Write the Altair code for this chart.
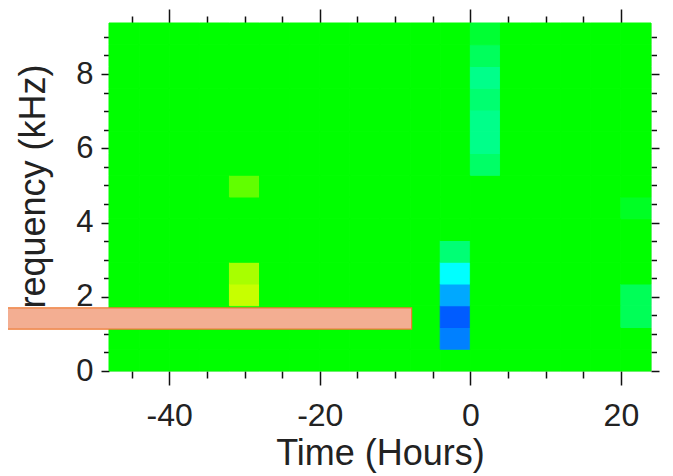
import altair as alt
import pandas as pd

# ---- data ----
time_starts = [-48, -44, -40, -36, -32, -28, -24, -20, -16, -12, -8, -4, 0, 4, 8, 12, 16, 20]
time_width = 4
freq_step = 0.5859375
n_freq_bins = 16

# non-background cells (time bin start, frequency bin index, value)
cell_time = [-32, -32, -32, -4, -4, -4, -4, -4, 0, 0, 0, 0, 0, 0, 0, 20, 20, 20]
cell_bin = [3, 4, 8, 1, 2, 3, 4, 5, 9, 10, 11, 12, 13, 14, 15, 2, 3, 7]
cell_value = [0.39, 0.33, 0.19, -0.75, -0.82, -0.67, -0.50, -0.23,
              -0.20, -0.27, -0.27, -0.22, -0.27, -0.18, -0.10,
              -0.17, -0.17, -0.07]

# annotation bar (time, frequency extents)
bar_time = [-62, -7.8]
bar_freq = [1.13, 1.70]

x_ticks = list(range(-45, 21, 5))
y_ticks = [i * 0.5 for i in range(19)]

lookup = {(t, b): v for t, b, v in zip(cell_time, cell_bin, cell_value)}
rows = []
for t in time_starts:
    for b in range(n_freq_bins):
        rows.append(dict(t0=t, t1=t + time_width, f0=b * freq_step,
                         f1=(b + 1) * freq_step, v=lookup.get((t, b), 0.0)))
df = pd.DataFrame(rows)
bar_df = pd.DataFrame({"t0": [bar_time[0]], "t1": [bar_time[1]],
                       "f0": [bar_freq[0]], "f1": [bar_freq[1]]})

font = "Liberation Sans"
W, H = 542, 348

xscale = alt.Scale(domain=[-48, 24], nice=False, zero=False)
yscale = alt.Scale(domain=[0, 9.375], nice=False, zero=False)
cscale = alt.Scale(type="linear", domain=[-1, -0.5, 0, 0.5, 1],
                   range=["#0000ff", "#00ffff", "#00ff00", "#ffff00", "#ff0000"],
                   interpolate="rgb")

x_tick_size = {"condition": {"test": "datum.value % 20 === 0", "value": 14}, "value": 7}
y_tick_size = {"condition": {"test": "datum.value % 2 === 0", "value": 8}, "value": 5.5}

common = dict(domain=False, grid=False, tickColor="#111", tickWidth=1.5, zindex=0,
              labelOverlap=False, labelFlush=False)

heat = alt.Chart(df).mark_rect(strokeWidth=1).encode(
    x=alt.X("t0:Q", scale=xscale, axis=alt.Axis(
        orient="bottom", values=x_ticks, tickSize=x_tick_size,
        labelExpr="datum.value % 20 === 0 ? toString(datum.value) : ''",
        labelFont=font, labelFontSize=32, labelColor="#222", labelPadding=15,
        title="Time (Hours)", titleFont=font, titleFontSize=36, titleFontWeight="normal",
        titleColor="#222", titleBaseline="alphabetic", titleX=W / 2, titleY=93,
        **common)),
    x2="t1:Q",
    y=alt.Y("f0:Q", scale=yscale, axis=alt.Axis(
        orient="left", values=y_ticks, tickSize=y_tick_size,
        labelExpr="datum.value % 2 === 0 ? toString(datum.value) : ''",
        labelFont=font, labelFontSize=31, labelColor="#222", labelPadding=8,
        title="Frequency (kHz)", titleFont=font, titleFontSize=36, titleFontWeight="normal",
        titleColor="#222", titleBaseline="alphabetic", titleAngle=270,
        titleX=-65, titleY=H / 2,
        **common)),
    y2="f1:Q",
    color=alt.Color("v:Q", scale=cscale, legend=None),
    stroke=alt.Stroke("v:Q", scale=cscale, legend=None),
)

bar = alt.Chart(bar_df).mark_rect(fill="#f3ae92", stroke="#ee7a33", strokeWidth=1.2,
                                  clip=False).encode(
    x=alt.X("t0:Q", scale=xscale, title=None, axis=alt.Axis(
        orient="top", values=x_ticks, tickSize=x_tick_size, labels=False, **common)),
    x2="t1:Q",
    y=alt.Y("f0:Q", scale=yscale, title=None, axis=alt.Axis(
        orient="right", values=y_ticks, tickSize=y_tick_size, labels=False, **common)),
    y2="f1:Q",
)

chart = alt.layer(heat, bar).resolve_axis(x="independent", y="independent").properties(
    width=W, height=H,
    autosize=alt.AutoSizeParams(type="none"),
    padding={"left": 101, "top": 15, "right": 14, "bottom": 102},
).configure_view(fill="#00ff00", stroke=None).configure(background="white")

chart.save("out.html", embed_options={"renderer": "svg", "actions": False})
